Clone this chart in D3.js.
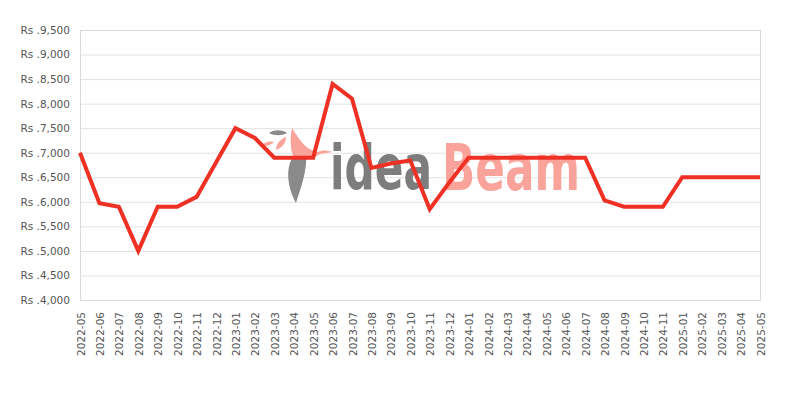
<!DOCTYPE html>
<html>
<head>
<meta charset="utf-8">
<script src="https://cdn.jsdelivr.net/npm/d3@7"></script>
<style>
  html, body { margin: 0; padding: 0; background: #fff; }
  svg { display: block; }
</style>
</head>
<body>
<svg id="chart" width="800" height="400"></svg>
<script>
const months = ["2022-05","2022-06","2022-07","2022-08","2022-09","2022-10","2022-11","2022-12",
  "2023-01","2023-02","2023-03","2023-04","2023-05","2023-06","2023-07","2023-08","2023-09","2023-10","2023-11","2023-12",
  "2024-01","2024-02","2024-03","2024-04","2024-05","2024-06","2024-07","2024-08","2024-09","2024-10","2024-11",
  "2025-01","2025-02","2025-03","2025-04","2025-05"];
const prices = [7000,5970,5900,5000,5900,5900,6100,6800,
  7500,7300,6900,6900,6900,8400,8100,6690,6780,6840,5850,6390,
  6900,6900,6900,6900,6900,6900,6900,6030,5900,5900,5900,
  6500,6500,6500,6500,6500];
const yTicks = [4000,4500,5000,5500,6000,6500,7000,7500,8000,8500,9000,9500];

const svg = d3.select("#chart");
const m = {left: 80, right: 40, top: 30, bottom: 100};
const W = 800, H = 400;
const x = d3.scalePoint().domain(months).range([m.left, W - m.right]);
const y = d3.scaleLinear().domain([4000, 9500]).range([H - m.bottom, m.top]);
const font = "'DejaVu Sans', sans-serif";

// gridlines
svg.append("g").selectAll("line").data(yTicks).join("line")
  .attr("x1", m.left).attr("x2", W - m.right)
  .attr("y1", d => y(d) + 0.5).attr("y2", d => y(d) + 0.5)
  .attr("stroke", "#e3e3e3").attr("stroke-width", 1);

// watermark
const wm = svg.append("g").attr("class", "watermark");
function wmText(str, x0, y0, size, color, target) {
  const t = wm.append("text").attr("x", 0).attr("y", 0)
    .attr("font-family", font).attr("font-size", size).attr("font-weight", "bold")
    .attr("fill", color).text(str);
  const w = t.node().getComputedTextLength();
  t.attr("transform", `translate(${x0},${y0}) scale(${target / w},1)`);
}
wmText("idea", 330, 189, 63, "#7d7d7d", 102);
wmText("Beam", 442, 190, 64, "#f9a39b", 138);
// feather
wm.append("path").attr("d", "M300,150 C284,160 286,185 296,203 C300,190 308,170 306,152 Z").attr("fill", "#8a8a8a");
// bird
wm.append("path").attr("d", "M292,128 C300,140 305,150 318,152 C322,150 326,150 332,152 L320,154 C312,160 298,160 294,158 C290,150 290,138 292,128 Z").attr("fill", "#f9a39b");
wm.append("path").attr("d", "M269,133 C275,129 283,130 287,133 C282,136 274,136 269,133 Z").attr("fill", "#8a8a8a");
wm.append("path").attr("d", "M276,150 C276,143 281,139 286,137 C286,143 282,148 276,150 Z").attr("fill", "#f9a39b");
wm.append("path").attr("d", "M262,145 C266,141 271,141 274,142 C271,145 266,147 262,145 Z").attr("fill", "#f9a39b");

// frame
svg.append("rect").attr("x", m.left + 0.5).attr("y", m.top + 0.5)
  .attr("width", W - m.left - m.right).attr("height", H - m.top - m.bottom)
  .attr("fill", "none").attr("stroke", "#d9d9d9");

// y axis
const yAxis = d3.axisLeft(y).tickValues(yTicks).tickSize(0).tickPadding(10)
  .tickFormat(d => "Rs ." + d3.format(",")(d));
const gy = svg.append("g").attr("transform", `translate(${m.left},0)`).call(yAxis);
gy.select(".domain").remove();
gy.selectAll("text").attr("font-family", font).attr("font-size", 10.5).attr("fill", "#555");

// x axis
const xAxis = d3.axisBottom(x).tickSize(0).tickPadding(0);
const gx = svg.append("g").attr("transform", `translate(0,${H - m.bottom})`).call(xAxis);
gx.select(".domain").remove();
gx.selectAll("text")
  .attr("font-family", font).attr("font-size", 10.5).attr("fill", "#555")
  .attr("text-anchor", "end").attr("dy", null).attr("y", 0)
  .attr("transform", "translate(4,12) rotate(-90)");

// line
const line = d3.line().x((d, i) => x(months[i])).y(d => y(d));
svg.append("path").datum(prices).attr("d", line)
  .attr("fill", "none").attr("stroke", "#ee3124").attr("stroke-width", 4)
  .attr("stroke-linejoin", "miter");
</script>
</body>
</html>
